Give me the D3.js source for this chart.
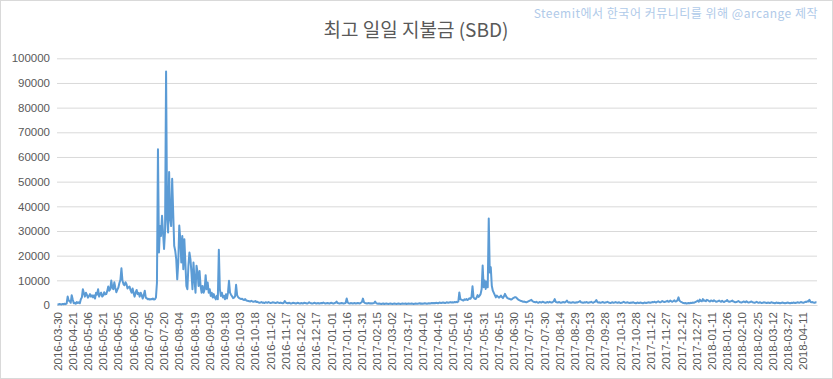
<!DOCTYPE html>
<html><head><meta charset="utf-8">
<script src="https://cdn.jsdelivr.net/npm/d3@7/dist/d3.min.js"></script>
<style>body{margin:0;background:#fff}</style>
</head><body><svg id="c" width="833" height="379"></svg>
<script>
const titleText = "최고 일일 지불금 (SBD)";
const watermarkText = "Steemit에서 한국어 커뮤니티를 위해 @arcange 제작";
const earlyDates = ["2016-03-30","2016-04-01","2016-04-02","2016-04-04","2016-04-05","2016-04-07","2016-04-08","2016-04-10","2016-04-11","2016-04-13","2016-04-14","2016-04-16","2016-04-17","2016-04-19","2016-04-20"];
const dailyStart = "2016-04-21";
const dailyEnd = "2018-04-24";
const values = [
300,250,400,350,200,450,300,500,350,600,
3400,1800,1600,900,4000,2200,700,900,500,1200,
800,1100,700,2300,3100,6400,4800,3400,5000,4100,
3000,3600,4400,3400,3900,3100,3900,2600,5000,4200,
6400,3400,4500,5000,3400,3800,5200,4300,4400,5600,
7500,5800,6300,9900,7000,6400,9200,6900,5200,6200,
7100,8900,10200,14900,9900,8500,8000,9200,8400,6700,
7200,7500,6000,5000,6700,4800,3400,5100,6100,4400,
4900,3400,5000,3900,2600,4100,5800,3000,2700,2300,
2500,2200,2400,2300,2600,2200,2300,3000,9000,63100,
21300,32000,28000,36200,29400,22700,30000,94600,35000,29400,
53900,34900,32000,51200,37600,24000,22000,18600,10400,17200,
32200,26700,17200,28000,14500,26700,17200,7700,6400,15900,
21300,18600,13200,6400,17200,10400,5000,15900,13200,7700,
13800,7700,5000,7700,5000,6400,12100,6400,9100,5000,
6400,3700,5000,3000,4400,3000,2300,3700,2300,22400,
6400,3700,5000,3000,3700,2300,4400,2600,5000,9800,
5000,4200,3500,2800,3000,3500,8200,4000,3200,2800,
2600,2400,2500,2200,2000,2400,1900,1700,1600,1500,
1400,1700,1500,1300,1400,1600,1200,1300,1100,900,
1000,1200,900,1000,800,1100,1000,900,1200,1000,
800,900,1100,1000,900,800,1000,1100,900,800,
1000,800,700,900,1600,1000,800,700,900,800,
600,700,900,800,700,600,800,900,700,600,
800,700,600,900,800,700,600,800,1100,800,
700,600,700,900,800,600,700,800,600,700,
800,700,1000,800,600,700,800,700,600,800,
900,700,600,800,900,1400,800,700,600,700,
800,700,600,700,900,2600,1000,700,600,800,
700,600,700,800,600,700,800,700,600,900,
1200,2600,1100,800,700,600,700,800,600,700,
600,700,800,1400,800,600,500,600,500,400,
500,600,400,500,600,500,400,500,600,500,
400,500,600,500,400,500,600,500,400,500,
600,500,500,600,400,500,600,500,500,600,
500,400,500,600,500,500,600,700,500,600,
500,600,700,600,500,600,700,600,700,800,
700,800,700,900,800,700,900,1000,800,900,
1000,900,800,1000,1100,900,1000,1200,1000,1100,
1000,1200,1100,1300,1100,1400,5100,2400,2200,2000,
1800,2300,2100,2400,2000,2300,2700,2500,3200,7600,
3100,2600,2400,3000,4000,3300,3800,4500,6500,16000,
7200,9900,6500,9500,7200,35100,13200,15300,7800,5800,
4900,4000,3100,3800,3400,3000,3300,3800,3200,2800,
3500,4500,3600,3000,2700,2500,2400,2200,2400,2800,
3000,3200,3100,2600,2200,2000,1800,1600,1500,1300,
1400,1200,1100,1300,1500,1700,1900,2100,1600,1300,
1200,1100,1300,1000,900,1200,1100,1000,1300,1200,
1000,900,1100,1200,1000,1300,1100,1000,1200,1500,
2400,1300,1100,1000,1200,1100,900,1000,1200,1100,
1000,1300,1800,1200,1000,1100,900,1000,1200,1000,
900,1100,1000,1200,1300,1600,1100,1000,900,1100,
1000,1200,1100,900,1000,1100,1300,1000,900,1200,
1400,2000,1200,1000,1100,900,1000,1200,1100,900,
1000,1100,1300,1000,900,800,1000,1100,900,1000,
1200,1000,900,1100,1000,800,900,1100,1300,1000,
900,1000,1100,900,800,1000,900,1100,1000,800,
700,900,1000,800,900,1000,800,700,900,1000,
800,900,1000,1100,900,1000,1200,1100,1300,1200,
1000,1300,1500,1200,1100,1300,1600,1400,1200,1300,
1500,1700,1300,1400,1800,1500,1300,1600,1900,1400,
1500,2000,3100,1700,1400,1200,900,800,700,800,
600,700,800,700,900,800,1000,900,1100,1300,
1500,1800,1300,2200,1600,1500,2400,1700,1800,1500,
2100,1900,1600,1400,1800,1700,1500,1900,1600,1300,
1400,1600,1800,1500,1300,1700,1400,1200,1500,1600,
2000,1500,1300,1400,1600,1800,1400,1300,1100,1200,
1400,1600,1300,1100,1000,1200,1400,1300,1100,1500,
1200,1000,1100,1300,1400,1100,1000,900,1100,1300,
1000,900,1100,1000,800,900,1100,1000,900,800,
1000,900,800,1000,1100,900,800,700,900,1000,
800,900,700,800,1000,900,800,700,800,900,
1000,800,700,900,800,1000,900,800,900,1100,
1000,900,1100,1200,1000,900,1100,1300,1200,1500,
1400,2100,1300,1100,1200,1000,900,1100,1000
];
const yTicks = [0,10000,20000,30000,40000,50000,60000,70000,80000,90000,100000];
const labelEvery = 15;

const fmt = d3.timeFormat("%Y-%m-%d");
const parse = d3.timeParse("%Y-%m-%d");
const daily = d3.timeDay.range(parse(dailyStart), d3.timeDay.offset(parse(dailyEnd), 1)).map(fmt);
const categories = earlyDates.concat(daily);
const data = categories.map((c, i) => ({c, v: values[i]}));

const svg = d3.select("#c");
const W = 833, H = 379;
const mLeft = 57, mRight = 817, mTop = 58.3, mBottom = 305;

svg.append("rect").attr("x",0.5).attr("y",0.5).attr("width",W-1).attr("height",H-1)
  .attr("fill","#fff").attr("stroke","#d9d9d9");

const x = d3.scaleBand().domain(categories).range([mLeft, mRight]);
const y = d3.scaleLinear().domain([0, 100000]).range([mBottom, mTop]);
const cx = d => x(d) + x.bandwidth()/2;

const fontTxt = "'Liberation Sans', Arial, sans-serif";

const yAxis = svg.append("g").attr("transform", `translate(${mLeft},0)`)
  .call(d3.axisLeft(y).tickValues(yTicks).tickSize(-(mRight-mLeft)).tickPadding(7).tickFormat(d3.format("d")));
yAxis.select(".domain").remove();
yAxis.selectAll(".tick line").attr("stroke","#d9d9d9").attr("stroke-width",1);
yAxis.selectAll(".tick text").attr("fill","#595959").style("font-family",fontTxt).style("font-size","11.5px");

const ticks = categories.filter((c,i) => i % labelEvery === 0);
const xAxis = svg.append("g").attr("transform", `translate(0,${mBottom})`)
  .call(d3.axisBottom(x).tickValues(ticks).tickSize(0).tickPadding(0));
xAxis.select(".domain").attr("stroke","#d9d9d9");
xAxis.selectAll(".tick text")
  .attr("fill","#595959").style("font-family",fontTxt).style("font-size","11.5px")
  .attr("text-anchor","end").attr("transform","rotate(-90)")
  .attr("x",-7).attr("y",0).attr("dy","0.35em");

const line = d3.line().x(d => cx(d.c)).y(d => y(d.v));
svg.append("path").datum(data).attr("d", line).attr("fill","none")
  .attr("stroke","#5b9bd5").attr("stroke-width",2).attr("stroke-linejoin","round");

svg.append("text").attr("x",416).attr("y",37).attr("text-anchor","middle")
  .attr("fill","#595959").style("font-family","'Noto Sans CJK KR', sans-serif").style("font-size","19px")
  .text(titleText);

svg.append("text").attr("x",818).attr("y",18).attr("text-anchor","end")
  .attr("fill","#b0cae9").style("font-family","'Noto Sans CJK KR', sans-serif").style("font-size","12px")
  .style("letter-spacing","0.5px")
  .text(watermarkText);
</script></body></html>
